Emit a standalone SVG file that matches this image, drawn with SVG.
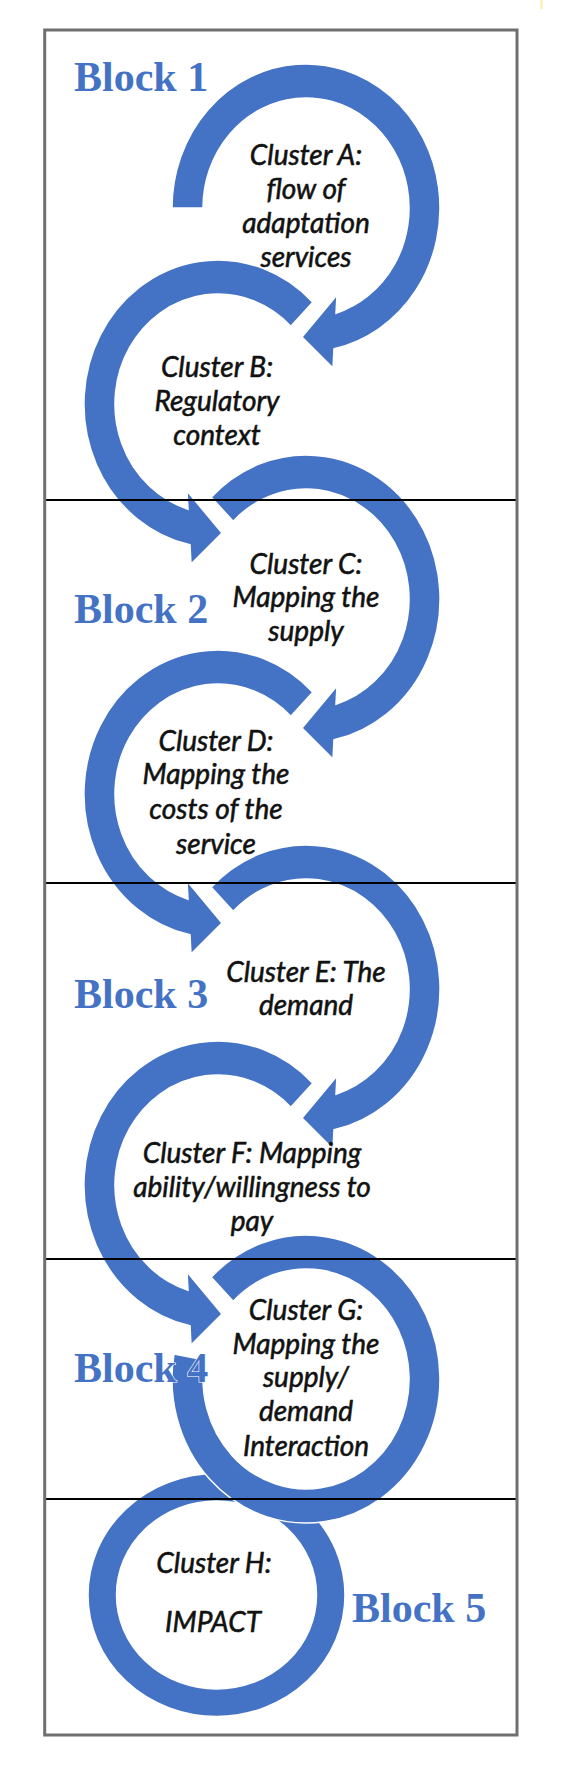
<svg xmlns="http://www.w3.org/2000/svg" width="561" height="1788" viewBox="0 0 561 1788">
<style>
.arc{fill:#4472C4;stroke:#fff;stroke-width:1.5;stroke-linejoin:miter}
.lbl{font-family:Lato,"Liberation Sans",sans-serif;font-style:italic;font-size:28px;fill:#111;stroke:#111;stroke-width:0.55;text-anchor:middle}
.blk{font-family:"Liberation Serif","Times New Roman",serif;font-weight:bold;font-size:42px;fill:#4472C4;stroke:#fff;stroke-width:1.2;paint-order:stroke}
.sep{stroke:#000;stroke-width:2.2}
</style>
<rect width="561" height="1788" fill="#fff"/>
<rect x="540.5" y="0" width="2" height="9" fill="#fbf0a0"/>
<g id="clusterH">
<path class="arc" fill-rule="evenodd" d="M88 1595 A128.5 121.5 0 1 1 345 1595 A128.5 121.5 0 1 1 88 1595 Z M116.5 1595 A100 94 0 1 0 316.5 1595 A100 94 0 1 0 116.5 1595 Z"/>
<text class="lbl" x="214" y="1573">Cluster H:</text>
<text class="lbl" x="213" y="1632">IMPACT</text>
</g>
<g id="clusterG">
<path class="arc" d="M211.25 1277.2 A134 144 0 1 1 174 1354 L204.6 1359.9 A103 110 0 1 0 233.17 1301.2 Z"/>
<text class="lbl" x="306" y="1320">Cluster G:</text>
<text class="lbl" x="306" y="1354">Mapping the</text>
<text class="lbl" x="306" y="1387">supply/</text>
<text class="lbl" x="306" y="1421">demand</text>
<text class="lbl" x="306" y="1456">Interaction</text>
</g>
<g id="clusterA">
<path class="arc" d="M172 208 A134 144 0 1 1 334 348.8 L333 368 L302 337 L337 295 L336 313.2 A103 110 0 1 0 203 208 Z"/>
<text class="lbl" x="306" y="165">Cluster A:</text>
<text class="lbl" x="306" y="199">flow of</text>
<text class="lbl" x="306" y="233">adaptation</text>
<text class="lbl" x="306" y="267">services</text>
</g>
<g id="clusterB">
<path class="arc" d="M312.75 302.2 A134 144 0 1 0 190 544.8 L191 564 L222 533 L187 491 L188 509.2 A103 110 0 1 1 290.83 326.2 Z"/>
<text class="lbl" x="217" y="377">Cluster B:</text>
<text class="lbl" x="217" y="411">Regulatory</text>
<text class="lbl" x="217" y="445">context</text>
</g>
<g id="clusterC">
<path class="arc" d="M211.25 497.2 A134 144 0 1 1 334 739.8 L333 759 L302 728 L337 686 L336 704.2 A103 110 0 1 0 233.17 521.2 Z"/>
<text class="lbl" x="306" y="574">Cluster C:</text>
<text class="lbl" x="306" y="607">Mapping the</text>
<text class="lbl" x="306" y="641">supply</text>
</g>
<g id="clusterD">
<path class="arc" d="M312.75 692.2 A134 144 0 1 0 190 934.8 L191 954 L222 923 L187 881 L188 899.2 A103 110 0 1 1 290.83 716.2 Z"/>
<text class="lbl" x="216" y="751">Cluster D:</text>
<text class="lbl" x="216" y="784">Mapping the</text>
<text class="lbl" x="216" y="819">costs of the</text>
<text class="lbl" x="216" y="854">service</text>
</g>
<g id="clusterE">
<path class="arc" d="M211.25 887.2 A134 144 0 1 1 334 1129.8 L333 1149 L302 1118 L337 1076 L336 1094.2 A103 110 0 1 0 233.17 911.2 Z"/>
<text class="lbl" x="306" y="982">Cluster E: The</text>
<text class="lbl" x="306" y="1015">demand</text>
</g>
<g id="clusterF">
<path class="arc" d="M312.75 1083.2 A134 144 0 1 0 190 1325.8 L191 1345 L222 1314 L187 1272 L188 1290.2 A103 110 0 1 1 290.83 1107.2 Z"/>
<text class="lbl" x="252" y="1163">Cluster F: Mapping</text>
<text class="lbl" x="252" y="1197">ability/willingness to</text>
<text class="lbl" x="252" y="1231">pay</text>
</g>
<g id="connectors">
<line class="sep" x1="44.7" y1="500" x2="517" y2="500"/>
<line class="sep" x1="44.7" y1="883" x2="517" y2="883"/>
<line class="sep" x1="44.7" y1="1259" x2="517" y2="1259"/>
<line class="sep" x1="44.7" y1="1499" x2="517" y2="1499"/>
</g>
<g id="blocks">
<text class="blk" x="74" y="91">Block 1</text>
<text class="blk" x="74" y="623">Block 2</text>
<text class="blk" x="74" y="1008">Block 3</text>
<text class="blk" x="74" y="1382">Block 4</text>
<text class="blk" x="352" y="1622">Block 5</text>
</g>
<rect id="frame" x="44.7" y="30" width="472.3" height="1705" fill="none" stroke="#6f6f6f" stroke-width="3"/>
</svg>
